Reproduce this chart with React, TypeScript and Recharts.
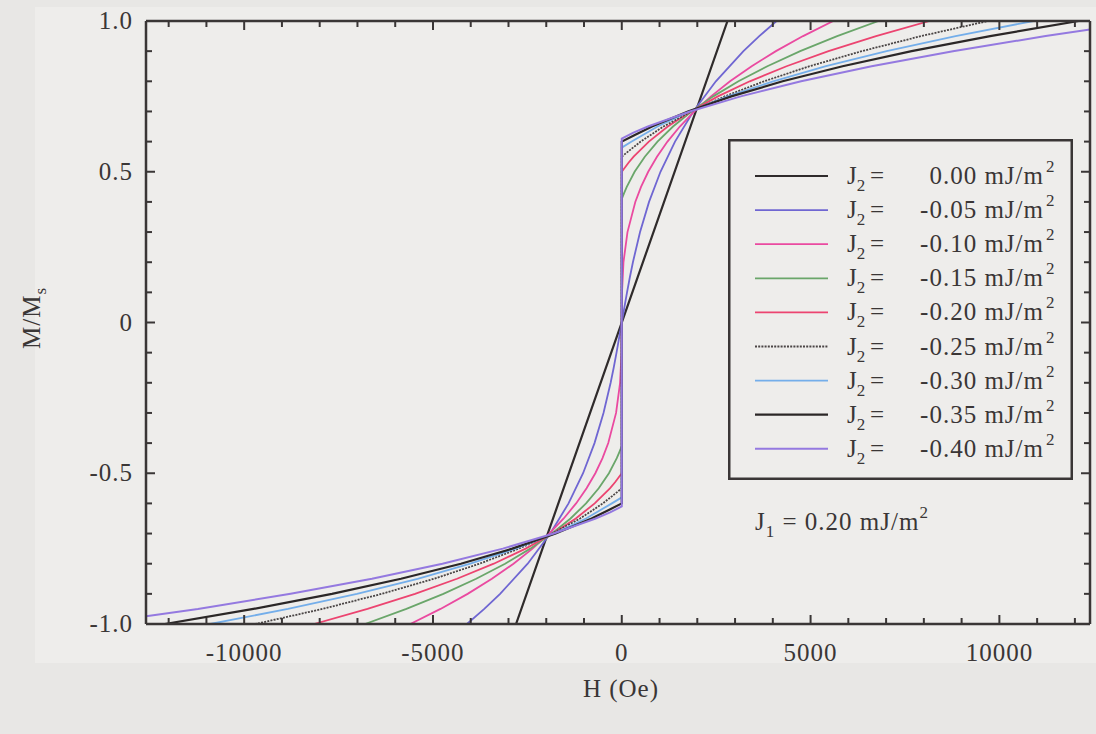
import { Legend, Line, LineChart, XAxis, YAxis } from "recharts";

// Magnetization curves M/Ms vs H (Oe) for J1 = 0.20 mJ/m^2 and several J2.
// Points are [H, M/Ms], read along each curve from negative to positive field.
const j2Labels = ["0.00", "-0.05", "-0.10", "-0.15", "-0.20", "-0.25", "-0.30", "-0.35", "-0.40"];

const curve000: [number, number][] = [
  [-12600, -1], [-2800, -1], [2800, 1], [12400, 1],
];

const curve005: [number, number][] = [
  [-12600, -1], [-4100, -1], [-3641, -0.95], [-3222, -0.9], [-2492, -0.8], [-1894, -0.7],
  [-1410, -0.6], [-1025, -0.5], [-722, -0.4], [-484, -0.3], [-295, -0.2], [-214, -0.15],
  [-139, -0.1], [-69, -0.05], [0, 0], [69, 0.05], [139, 0.1], [214, 0.15], [295, 0.2],
  [484, 0.3], [722, 0.4], [1025, 0.5], [1410, 0.6], [1894, 0.7], [2492, 0.8], [3222, 0.9],
  [3641, 0.95], [4100, 1], [12400, 1],
];

const curve010: [number, number][] = [
  [-12600, -1], [-5600, -1], [-4801, -0.95], [-4082, -0.9], [-3440, -0.85], [-2867, -0.8],
  [-2363, -0.75], [-1921, -0.7], [-1538, -0.65], [-1210, -0.6], [-932, -0.55], [-700, -0.5],
  [-510, -0.45], [-358, -0.4], [-151, -0.3], [-45, -0.2], [-6, -0.1], [0, 0], [6, 0.1],
  [45, 0.2], [151, 0.3], [358, 0.4], [510, 0.45], [700, 0.5], [932, 0.55], [1210, 0.6],
  [1538, 0.65], [1921, 0.7], [2363, 0.75], [2867, 0.8], [3440, 0.85], [4082, 0.9],
  [4801, 0.95], [5600, 1], [12400, 1],
];

const curve015: [number, number][] = [
  [-12600, -1], [-6800, -1], [-5704, -0.95], [-4725, -0.9], [-3855, -0.85], [-3090, -0.8],
  [-2423, -0.75], [-1847, -0.7], [-1357, -0.65], [-946, -0.6], [-610, -0.55], [-340, -0.5],
  [-132, -0.45], [-64, -0.43], [0, -0.41], [0, 0.41], [64, 0.43], [132, 0.45], [340, 0.5],
  [610, 0.55], [946, 0.6], [1357, 0.65], [1847, 0.7], [2423, 0.75], [3090, 0.8],
  [3855, 0.85], [4725, 0.9], [5704, 0.95], [6800, 1], [12400, 1],
];

const curve020: [number, number][] = [
  [-12600, -1], [-8150, -1], [-6734, -0.95], [-5475, -0.9], [-4363, -0.85], [-3390, -0.8],
  [-2546, -0.75], [-1825, -0.7], [-1218, -0.65], [-717, -0.6], [-314, -0.55], [-178, -0.53],
  [0, -0.5], [0, 0.5], [178, 0.53], [314, 0.55], [717, 0.6], [1218, 0.65], [1825, 0.7],
  [2546, 0.75], [3390, 0.8], [4363, 0.85], [5475, 0.9], [6734, 0.95], [8150, 1], [12400, 1],
];

const curve025: [number, number][] = [
  [-12600, -1], [-9700, -1], [-7927, -0.95], [-6357, -0.9], [-4974, -0.85], [-3767, -0.8],
  [-2727, -0.75], [-1842, -0.7], [-1103, -0.65], [-499, -0.6], [-197, -0.57], [0, -0.55],
  [0, 0.55], [197, 0.57], [499, 0.6], [1103, 0.65], [1842, 0.7], [2727, 0.75], [3767, 0.8],
  [4974, 0.85], [6357, 0.9], [7927, 0.95], [9700, 1], [12400, 1],
];

const curve030: [number, number][] = [
  [-12600, -1], [-10900, -1], [-8840, -0.95], [-7014, -0.9], [-5408, -0.85], [-4011, -0.8],
  [-2810, -0.75], [-1793, -0.7], [-948, -0.65], [-262, -0.6], [0, -0.58], [0, 0.58],
  [262, 0.6], [948, 0.65], [1793, 0.7], [2810, 0.75], [4011, 0.8], [5408, 0.85],
  [7014, 0.9], [8840, 0.95], [10900, 1], [12400, 1],
];

const curve035: [number, number][] = [
  [-12600, -1], [-12100, -1], [-9755, -0.95], [-7675, -0.9], [-5848, -0.85], [-4261, -0.8],
  [-2900, -0.75], [-1751, -0.7], [-800, -0.65], [-318, -0.62], [0, -0.6], [0, 0.6],
  [318, 0.62], [800, 0.65], [1751, 0.7], [2900, 0.75], [4261, 0.8], [5848, 0.85],
  [7675, 0.9], [9755, 0.95], [12100, 1], [12400, 1],
];

const curve040: [number, number][] = [
  [-12600, -0.974], [-11225, -0.95], [-8770, -0.9], [-6616, -0.85], [-4749, -0.8],
  [-3150, -0.75], [-1803, -0.7], [-692, -0.65], [-309, -0.63], [0, -0.61], [0, 0.61],
  [309, 0.63], [692, 0.65], [1803, 0.7], [3150, 0.75], [4749, 0.8], [6616, 0.85],
  [8770, 0.9], [11225, 0.95], [12400, 0.972],
];

const curves = [curve000, curve005, curve010, curve015, curve020, curve025, curve030, curve035, curve040];

const lineColors = ["#2f2b2b", "#6f66d2", "#ea4aa0", "#6aa66a", "#ec4470", "#4a4545", "#74aeea", "#2b2727", "#9479e0"];
const lineDashes = ["", "", "", "", "", "2 1.2", "", "", ""];
const lineWidths = [2.2, 1.8, 1.8, 1.8, 1.8, 1.8, 1.8, 2.2, 2];

const xTicks = [-12000, -11000, -10000, -9000, -8000, -7000, -6000, -5000, -4000, -3000, -2000, -1000, 0,
  1000, 2000, 3000, 4000, 5000, 6000, 7000, 8000, 9000, 10000, 11000, 12000];
const yTicks = [-1, -0.9, -0.8, -0.7, -0.6, -0.5, -0.4, -0.3, -0.2, -0.1, 0, 0.1, 0.2, 0.3, 0.4, 0.5, 0.6, 0.7, 0.8, 0.9, 1];
const yLabels: Record<string, string> = { "1": "1.0", "0.5": "0.5", "0": "0", "-0.5": "-0.5", "-1": "-1.0" };

const series = curves.map((pts, i) => ({
  label: j2Labels[i],
  color: lineColors[i],
  dash: lineDashes[i],
  width: lineWidths[i],
  data: pts.map(([h, m]) => ({ h, m })),
}));

const INK = "#3a3636";
const FONT = "'Liberation Serif', 'DejaVu Serif', serif";

const isMajorY = (v: number) => Math.abs(v * 2 - Math.round(v * 2)) < 1e-6;

function BottomTick(props: any) {
  const { x, y, payload } = props;
  const v = payload.value as number;
  const major = v % 5000 === 0;
  return (
    <g>
      <line x1={x} y1={y} x2={x} y2={y - (major ? 9 : 6)} stroke={INK} strokeWidth={2} />
      {major && (
        <text x={x} y={y + 37} textAnchor="middle" fontFamily={FONT} fontSize={25} letterSpacing={1} fill={INK}>
          {String(v)}
        </text>
      )}
    </g>
  );
}

function TopTick(props: any) {
  const { x, y, payload } = props;
  const major = (payload.value as number) % 5000 === 0;
  return <line x1={x} y1={y} x2={x} y2={y + (major ? 9 : 6)} stroke={INK} strokeWidth={2} />;
}

function LeftTick(props: any) {
  const { x, y, payload } = props;
  const v = payload.value as number;
  const major = isMajorY(v);
  const key = String(Math.round(v * 10) / 10);
  return (
    <g>
      <line x1={x} y1={y} x2={x + (major ? 9 : 6)} y2={y} stroke={INK} strokeWidth={2} />
      {major && (
        <text x={x - 13} y={y + 8} textAnchor="end" fontFamily={FONT} fontSize={25} letterSpacing={1} fill={INK}>
          {yLabels[key]}
        </text>
      )}
    </g>
  );
}

function RightTick(props: any) {
  const { x, y, payload } = props;
  const major = isMajorY(payload.value as number);
  return <line x1={x} y1={y} x2={x - (major ? 9 : 6)} y2={y} stroke={INK} strokeWidth={2} />;
}

function LegendBox() {
  return (
    <svg width={345} height={341} style={{ display: "block" }}>
      <rect x={1.25} y={1.25} width={342.5} height={338.5} fill="none" stroke={INK} strokeWidth={2.5} />
      {series.map((s, i) => {
        const base = 45 + 34.1 * i;
        return (
          <g key={s.label} fontFamily={FONT} fill={INK}>
            <line x1={27} x2={100} y1={base - 8} y2={base - 8} stroke={s.color} strokeWidth={s.width} strokeDasharray={s.dash || undefined} />
            <text x={119} y={base} fontSize={25}>
              J<tspan dy={7} fontSize={17}>2</tspan>
            </text>
            <text x={142} y={base} fontSize={25}>=</text>
            <text x={316} y={base} fontSize={25} textAnchor="end" letterSpacing={1}>
              {`${s.label} mJ/m`}
            </text>
            <text x={318} y={base - 12} fontSize={17}>2</text>
          </g>
        );
      })}
    </svg>
  );
}

export default function App() {
  return (
    <div style={{ position: "absolute", left: 0, top: 0, width: 1096, height: 734, background: "#e8e7e5", overflow: "hidden" }}>
      <div style={{ position: "absolute", left: 35, top: 7, width: 1061, height: 656, background: "#eeedeb" }} />
      <div style={{ position: "absolute", left: 0, top: 0 }}>
        <LineChart width={1096} height={734} margin={{ top: 20, right: 5, bottom: 109, left: 145 }}>
          <XAxis
            xAxisId="b"
            dataKey="h"
            type="number"
            domain={[-12600, 12400]}
            ticks={xTicks}
            interval={0}
            height={1}
            tickSize={0}
            tickMargin={0}
            tickLine={false}
            tick={<BottomTick />}
            axisLine={{ stroke: INK, strokeWidth: 2.5 }}
            allowDataOverflow
          />
          <XAxis
            xAxisId="t"
            orientation="top"
            dataKey="h"
            type="number"
            domain={[-12600, 12400]}
            ticks={xTicks}
            interval={0}
            height={1}
            tickSize={0}
            tickMargin={0}
            tickLine={false}
            tick={<TopTick />}
            axisLine={{ stroke: INK, strokeWidth: 2.5 }}
            allowDataOverflow
          />
          <YAxis
            yAxisId="l"
            type="number"
            domain={[-1, 1]}
            ticks={yTicks}
            interval={0}
            width={1}
            tickSize={0}
            tickMargin={0}
            tickLine={false}
            tick={<LeftTick />}
            axisLine={{ stroke: INK, strokeWidth: 2.5 }}
            allowDataOverflow
          />
          <YAxis
            yAxisId="r"
            orientation="right"
            type="number"
            domain={[-1, 1]}
            ticks={yTicks}
            interval={0}
            width={1}
            tickSize={0}
            tickMargin={0}
            tickLine={false}
            tick={<RightTick />}
            axisLine={{ stroke: INK, strokeWidth: 2.5 }}
            allowDataOverflow
          />
          {series.map((s) => (
            <Line
              key={s.label}
              xAxisId="b"
              yAxisId="l"
              data={s.data}
              dataKey="m"
              name={s.label}
              type="linear"
              stroke={s.color}
              strokeWidth={s.width}
              strokeDasharray={s.dash || undefined}
              dot={false}
              activeDot={false}
              isAnimationActive={false}
            />
          ))}
          <Legend
            layout="vertical"
            align="center"
            verticalAlign="middle"
            wrapperStyle={{ left: 728, top: 139, width: 345, height: 341 }}
            content={() => <LegendBox />}
          />
        </LineChart>
      </div>
      <svg width={1096} height={734} style={{ position: "absolute", left: 0, top: 0, pointerEvents: "none" }}>
        <text x={621} y={697} textAnchor="middle" fontFamily={FONT} fontSize={25} letterSpacing={1} fill={INK}>
          H (Oe)
        </text>
        <text transform="translate(40,318) rotate(-90)" textAnchor="middle" fontFamily={FONT} fontSize={25} letterSpacing={1} fill={INK}>
          M/M<tspan dy={6} fontSize={17}>s</tspan>
        </text>
        <text x={755} y={530} fontFamily={FONT} fontSize={25} letterSpacing={1} fill={INK}>
          J<tspan dy={7} fontSize={17}>1</tspan>
          <tspan dy={-7}> = 0.20 mJ/m</tspan>
          <tspan dy={-12} fontSize={17}>2</tspan>
        </text>
      </svg>
    </div>
  );
}
